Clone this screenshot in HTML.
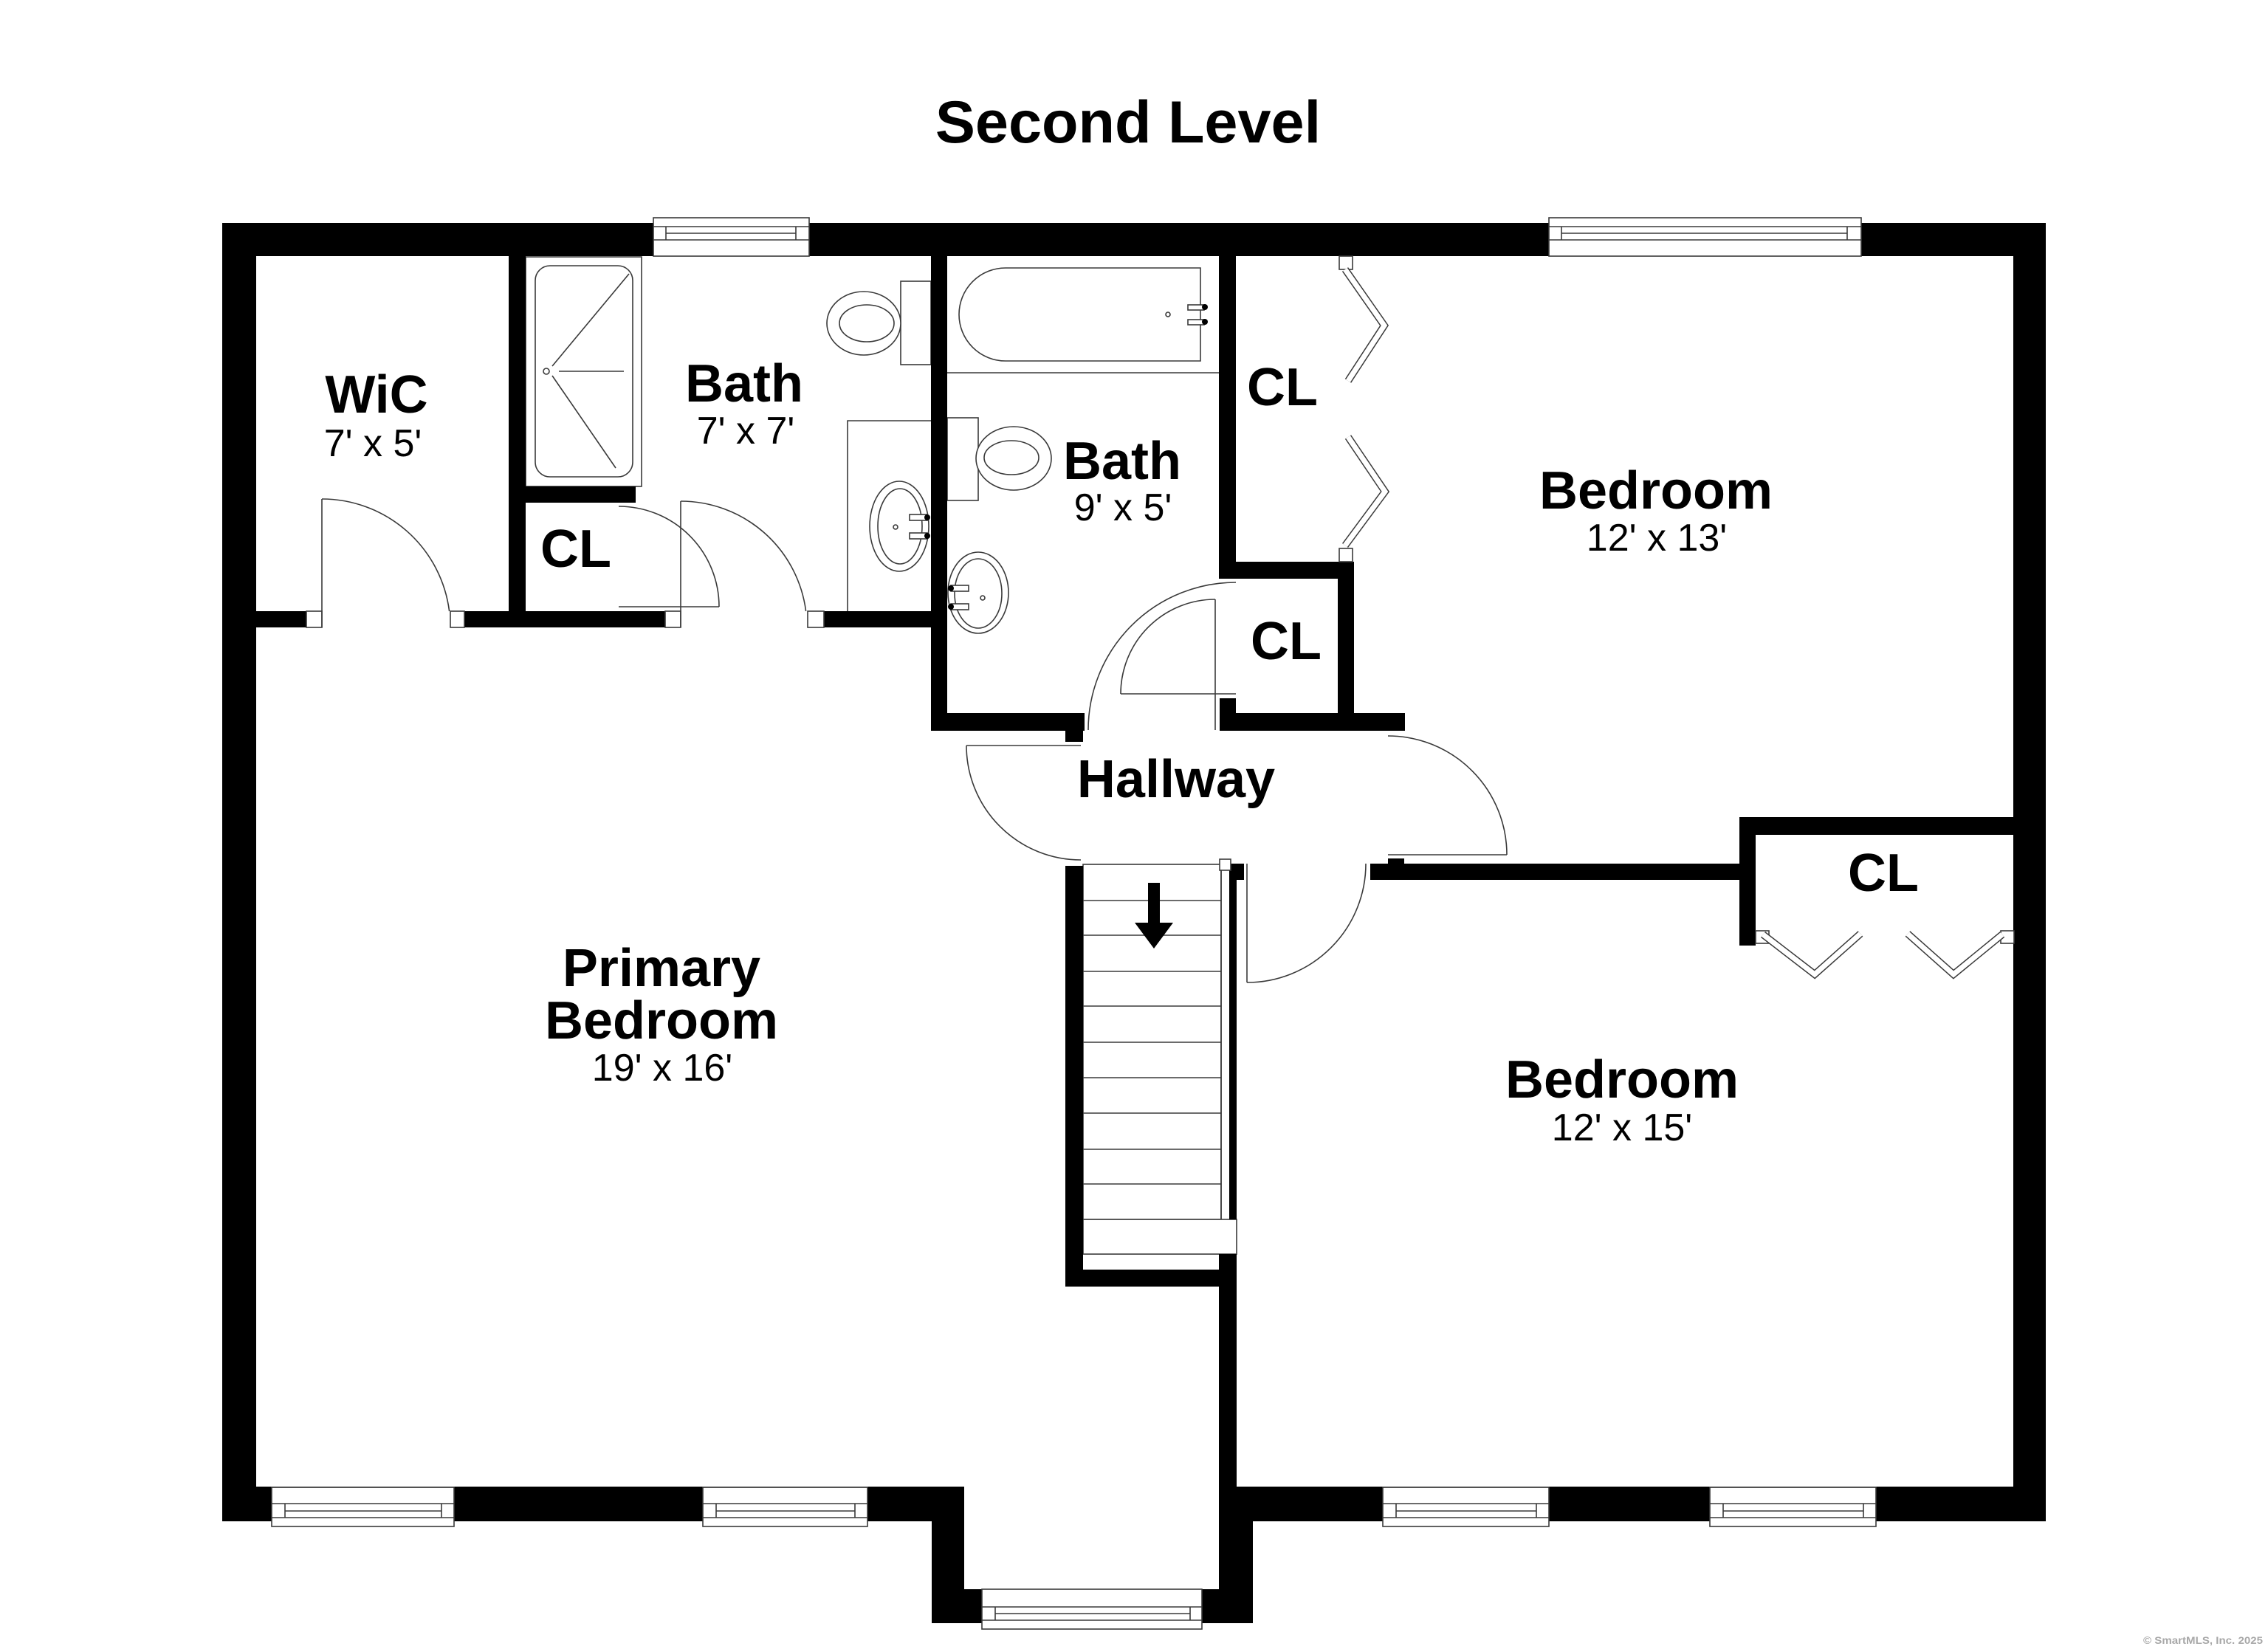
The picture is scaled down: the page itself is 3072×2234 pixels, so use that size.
<!DOCTYPE html>
<html>
<head>
<meta charset="utf-8">
<style>
  html, body { margin:0; padding:0; background:#fff; }
  body { width:3072px; height:2234px; overflow:hidden; }
  svg { display:block; }
  .b { font-family:"Liberation Sans", Arial, sans-serif; font-weight:bold; fill:#000; text-anchor:middle; }
  .r { font-family:"Liberation Sans", Arial, sans-serif; font-weight:normal; fill:#000; text-anchor:middle; }
  .ln { stroke:#3a3a3a; stroke-width:1.6; fill:none; }
  .lw { stroke:#3a3a3a; stroke-width:1.6; fill:#fff; }
</style>
</head>
<body>
<svg width="3072" height="2234" viewBox="0 0 3072 2234" xmlns="http://www.w3.org/2000/svg">
  <rect x="0" y="0" width="3072" height="2234" fill="#fff"/>

  <!-- Title -->
  <text class="b" x="1528" y="193" font-size="81">Second Level</text>

  <!-- ===== Fixtures (drawn under walls) ===== -->
  <!-- Shower (bath 1) -->
  <rect class="lw" x="712" y="348" width="157" height="311"/>
  <rect class="ln" x="725" y="360" width="132" height="286" rx="20" ry="20"/>
  <circle class="ln" cx="740" cy="503" r="4"/>
  <line class="ln" x1="748" y1="496" x2="852" y2="371"/>
  <line class="ln" x1="748" y1="509" x2="834" y2="634"/>
  <line class="ln" x1="757" y1="503" x2="845" y2="503"/>

  <!-- Toilet bath 1 -->
  <rect class="lw" x="1220" y="381" width="41" height="113"/>
  <ellipse class="lw" cx="1170" cy="438" rx="50" ry="43"/>
  <ellipse class="ln" cx="1174" cy="438" rx="37" ry="25"/>

  <!-- Vanity bath 1 -->
  <polyline class="ln" points="1148,828 1148,570 1261,570"/>
  <ellipse class="lw" cx="1218" cy="713" rx="40" ry="61"/>
  <ellipse class="ln" cx="1219" cy="713" rx="30" ry="51"/>
  <circle class="ln" cx="1213" cy="714" r="3"/>
  <rect class="lw" x="1232" y="697" width="24" height="8"/>
  <rect class="lw" x="1232" y="722" width="24" height="8"/>
  <circle cx="1256" cy="701" r="4" fill="#000"/>
  <circle cx="1256" cy="726" r="4" fill="#000"/>

  <!-- Tub bath 2 -->
  <path class="lw" d="M1362 363 H1626 V489 H1362 A63 63 0 0 1 1362 363 Z"/>
  <line class="ln" x1="1283" y1="505" x2="1651" y2="505"/>
  <circle class="ln" cx="1582" cy="426" r="3"/>
  <rect class="lw" x="1609" y="413" width="22" height="7"/>
  <rect class="lw" x="1609" y="433" width="22" height="7"/>
  <circle cx="1632" cy="416" r="4" fill="#000"/>
  <circle cx="1632" cy="436" r="4" fill="#000"/>

  <!-- Toilet bath 2 -->
  <rect class="lw" x="1283" y="566" width="42" height="112"/>
  <ellipse class="lw" cx="1373" cy="621" rx="51" ry="43"/>
  <ellipse class="ln" cx="1370" cy="620" rx="37" ry="23"/>

  <!-- Sink bath 2 -->
  <ellipse class="lw" cx="1325" cy="803" rx="41" ry="55"/>
  <ellipse class="ln" cx="1325" cy="804" rx="32" ry="47"/>
  <circle class="ln" cx="1331" cy="810" r="3"/>
  <rect class="lw" x="1288" y="793" width="24" height="8"/>
  <rect class="lw" x="1288" y="818" width="24" height="8"/>
  <circle cx="1288" cy="797" r="4" fill="#000"/>
  <circle cx="1288" cy="822" r="4" fill="#000"/>

  <!-- Stairs -->
  <rect class="lw" x="1467" y="1171" width="187" height="481"/>
  <g class="ln">
    <line x1="1467" y1="1220" x2="1654" y2="1220"/>
    <line x1="1467" y1="1267" x2="1654" y2="1267"/>
    <line x1="1467" y1="1316" x2="1654" y2="1316"/>
    <line x1="1467" y1="1363" x2="1654" y2="1363"/>
    <line x1="1467" y1="1412" x2="1654" y2="1412"/>
    <line x1="1467" y1="1460" x2="1654" y2="1460"/>
    <line x1="1467" y1="1508" x2="1654" y2="1508"/>
    <line x1="1467" y1="1557" x2="1654" y2="1557"/>
    <line x1="1467" y1="1604" x2="1654" y2="1604"/>
  </g>
  <rect class="lw" x="1467" y="1652" width="208" height="47"/>
  <rect x="1555" y="1196" width="16" height="55" fill="#000"/>
  <polygon points="1537,1250 1589,1250 1563,1285" fill="#000"/>

  <!-- ===== Walls ===== -->
  <g fill="#000">
    <!-- outer -->
    <rect x="301" y="302" width="2470" height="45"/>
    <rect x="301" y="302" width="46" height="1759"/>
    <rect x="2727" y="302" width="44" height="1759"/>
    <rect x="301" y="2014" width="1005" height="47"/>
    <rect x="1262" y="2014" width="44" height="185"/>
    <rect x="1262" y="2153" width="435" height="46"/>
    <rect x="1651" y="2014" width="46" height="185"/>
    <rect x="1651" y="2014" width="1120" height="47"/>
    <!-- interior -->
    <rect x="689" y="347" width="23" height="503"/>
    <rect x="347" y="828" width="914" height="22"/>
    <rect x="689" y="659" width="172" height="22"/>
    <rect x="1261" y="302" width="22" height="688"/>
    <rect x="1261" y="966" width="208" height="24"/>
    <rect x="1443" y="990" width="24" height="15"/>
    <rect x="1651" y="347" width="23" height="436"/>
    <rect x="1651" y="761" width="182" height="23"/>
    <rect x="1812" y="761" width="22" height="229"/>
    <rect x="1652" y="966" width="251" height="24"/>
    <rect x="1652" y="946" width="22" height="20"/>
    <rect x="1443" y="1173" width="24" height="570"/>
    <rect x="1443" y="1720" width="232" height="23"/>
    <rect x="1651" y="1699" width="24" height="315"/>
    <rect x="1665" y="1178" width="10" height="474"/>
    <rect x="1667" y="1170" width="18" height="22"/>
    <rect x="1856" y="1170" width="500" height="22"/>
    <rect x="1880" y="1163" width="22" height="7"/>
    <rect x="2356" y="1107" width="372" height="24"/>
    <rect x="2356" y="1107" width="22" height="174"/>
  </g>

  <!-- door openings in WiC/bath wall -->
  <rect x="436" y="827" width="174" height="24" fill="#fff"/>
  <rect x="922" y="827" width="172" height="24" fill="#fff"/>
  <!-- jambs -->
  <rect class="lw" x="415" y="828" width="21" height="22"/>
  <rect class="lw" x="610" y="828" width="19" height="22"/>
  <rect class="lw" x="901" y="828" width="21" height="22"/>
  <rect class="lw" x="1094" y="828" width="22" height="22"/>

  <!-- stair rail & post -->
  <line class="ln" x1="1654" y1="1179" x2="1654" y2="1652"/>
  <rect class="lw" x="1652" y="1164" width="15" height="15"/>

  <!-- ===== Doors ===== -->
  <g class="ln">
    <!-- WiC -->
    <line x1="436" y1="676" x2="436" y2="850"/>
    <path d="M436 676 A174 174 0 0 1 608.6 828"/>
    <!-- Bath 1 -->
    <line x1="922" y1="679" x2="922" y2="850"/>
    <path d="M922 679 A171 171 0 0 1 1091.6 828"/>
    <!-- CL (bath 1) -->
    <line x1="838" y1="822" x2="974" y2="822"/>
    <path d="M838 686 A136 136 0 0 1 974 822"/>
    <!-- Bath 2 -->
    <path d="M1674 789 A200 200 0 0 0 1474 989"/>
    <line x1="1646" y1="812" x2="1646" y2="989"/>
    <!-- small CL -->
    <path d="M1518 940 A128 128 0 0 1 1646 812"/>
    <line x1="1518" y1="940" x2="1674" y2="940"/>
    <!-- Primary -->
    <line x1="1309" y1="1010" x2="1464" y2="1010"/>
    <path d="M1309 1010 A155 155 0 0 0 1464 1165"/>
    <!-- Bedroom 2 -->
    <line x1="1689" y1="1170" x2="1689" y2="1331"/>
    <path d="M1689 1331 A161 161 0 0 0 1850 1170"/>
    <!-- Bedroom 1 -->
    <line x1="1880" y1="1158" x2="2041" y2="1158"/>
    <path d="M1880 997 A161 161 0 0 1 2041 1158"/>
  </g>

  <!-- Bifold doors -->
  <rect class="lw" x="1814" y="347" width="18" height="18"/>
  <rect class="lw" x="1814" y="743" width="18" height="18"/>
  <g fill="none" stroke-linejoin="miter">
    <polyline points="1822,365 1875,441 1826,516" stroke="#3a3a3a" stroke-width="10"/>
    <polyline points="1822,365 1875,441 1826,516" stroke="#fff" stroke-width="7"/>
    <polyline points="1826,592 1876,666 1822,739" stroke="#3a3a3a" stroke-width="10"/>
    <polyline points="1826,592 1876,666 1822,739" stroke="#fff" stroke-width="7"/>
  </g>
  <rect class="lw" x="2378" y="1261" width="18" height="17"/>
  <rect class="lw" x="2710" y="1261" width="18" height="17"/>
  <g fill="none" stroke-linejoin="miter">
    <polyline points="2388,1266 2458,1320 2520,1265" stroke="#3a3a3a" stroke-width="10"/>
    <polyline points="2388,1266 2458,1320 2520,1265" stroke="#fff" stroke-width="7"/>
    <polyline points="2584,1265 2646,1320 2712,1266" stroke="#3a3a3a" stroke-width="10"/>
    <polyline points="2584,1265 2646,1320 2712,1266" stroke="#fff" stroke-width="7"/>
  </g>

  <!-- ===== Windows ===== -->
  <!-- top -->
  <g>
    <rect class="lw" x="885" y="295" width="211" height="52"/>
    <line class="ln" x1="885" y1="307" x2="1096" y2="307"/>
    <line class="ln" x1="885" y1="325" x2="1096" y2="325"/>
    <line class="ln" x1="902" y1="316" x2="1078" y2="316"/>
    <line class="ln" x1="902" y1="307" x2="902" y2="325"/>
    <line class="ln" x1="1078" y1="307" x2="1078" y2="325"/>
  </g>
  <g>
    <rect class="lw" x="2098" y="295" width="423" height="52"/>
    <line class="ln" x1="2098" y1="307" x2="2521" y2="307"/>
    <line class="ln" x1="2098" y1="325" x2="2521" y2="325"/>
    <line class="ln" x1="2115" y1="316" x2="2502" y2="316"/>
    <line class="ln" x1="2115" y1="307" x2="2115" y2="325"/>
    <line class="ln" x1="2502" y1="307" x2="2502" y2="325"/>
  </g>
  <!-- bottom -->
  <g>
    <rect class="lw" x="368" y="2015" width="247" height="53"/>
    <line class="ln" x1="368" y1="2037" x2="615" y2="2037"/>
    <line class="ln" x1="368" y1="2056" x2="615" y2="2056"/>
    <line class="ln" x1="386" y1="2047" x2="598" y2="2047"/>
    <line class="ln" x1="386" y1="2037" x2="386" y2="2056"/>
    <line class="ln" x1="598" y1="2037" x2="598" y2="2056"/>
  </g>
  <g>
    <rect class="lw" x="952" y="2015" width="223" height="53"/>
    <line class="ln" x1="952" y1="2037" x2="1175" y2="2037"/>
    <line class="ln" x1="952" y1="2056" x2="1175" y2="2056"/>
    <line class="ln" x1="970" y1="2047" x2="1158" y2="2047"/>
    <line class="ln" x1="970" y1="2037" x2="970" y2="2056"/>
    <line class="ln" x1="1158" y1="2037" x2="1158" y2="2056"/>
  </g>
  <g>
    <rect class="lw" x="1330" y="2153" width="298" height="54"/>
    <line class="ln" x1="1330" y1="2177" x2="1628" y2="2177"/>
    <line class="ln" x1="1330" y1="2195" x2="1628" y2="2195"/>
    <line class="ln" x1="1348" y1="2186" x2="1612" y2="2186"/>
    <line class="ln" x1="1348" y1="2177" x2="1348" y2="2195"/>
    <line class="ln" x1="1612" y1="2177" x2="1612" y2="2195"/>
  </g>
  <g>
    <rect class="lw" x="1873" y="2015" width="225" height="53"/>
    <line class="ln" x1="1873" y1="2037" x2="2098" y2="2037"/>
    <line class="ln" x1="1873" y1="2056" x2="2098" y2="2056"/>
    <line class="ln" x1="1891" y1="2047" x2="2081" y2="2047"/>
    <line class="ln" x1="1891" y1="2037" x2="1891" y2="2056"/>
    <line class="ln" x1="2081" y1="2037" x2="2081" y2="2056"/>
  </g>
  <g>
    <rect class="lw" x="2316" y="2015" width="225" height="53"/>
    <line class="ln" x1="2316" y1="2037" x2="2541" y2="2037"/>
    <line class="ln" x1="2316" y1="2056" x2="2541" y2="2056"/>
    <line class="ln" x1="2334" y1="2047" x2="2524" y2="2047"/>
    <line class="ln" x1="2334" y1="2037" x2="2334" y2="2056"/>
    <line class="ln" x1="2524" y1="2037" x2="2524" y2="2056"/>
  </g>

  <!-- ===== Labels ===== -->
  <text class="b" x="510" y="559" font-size="72">WiC</text>
  <text class="r" x="505" y="618" font-size="52">7' x 5'</text>

  <text class="b" x="1008" y="544" font-size="72">Bath</text>
  <text class="r" x="1010" y="601" font-size="52">7' x 7'</text>

  <text class="b" x="780" y="768" font-size="72">CL</text>

  <text class="b" x="1520" y="649" font-size="72">Bath</text>
  <text class="r" x="1521" y="705" font-size="52">9' x 5'</text>

  <text class="b" x="1737" y="549" font-size="72">CL</text>
  <text class="b" x="1742" y="893" font-size="72">CL</text>

  <text class="b" x="2243" y="689" font-size="72">Bedroom</text>
  <text class="r" x="2244" y="746" font-size="52">12' x 13'</text>

  <text class="b" x="1593" y="1080" font-size="72">Hallway</text>

  <text class="b" x="896" y="1336" font-size="72">Primary</text>
  <text class="b" x="896" y="1407" font-size="72">Bedroom</text>
  <text class="r" x="897" y="1464" font-size="52">19' x 16'</text>

  <text class="b" x="2197" y="1487" font-size="72">Bedroom</text>
  <text class="r" x="2197" y="1545" font-size="52">12' x 15'</text>

  <text class="b" x="2551" y="1207" font-size="72">CL</text>

  <!-- watermark -->
  <text x="2903" y="2227" font-size="14" font-family="Liberation Sans, Arial, sans-serif" font-weight="bold" fill="#a8a8a8" textLength="162" lengthAdjust="spacingAndGlyphs">© SmartMLS, Inc.  2025</text>
</svg>
</body>
</html>
